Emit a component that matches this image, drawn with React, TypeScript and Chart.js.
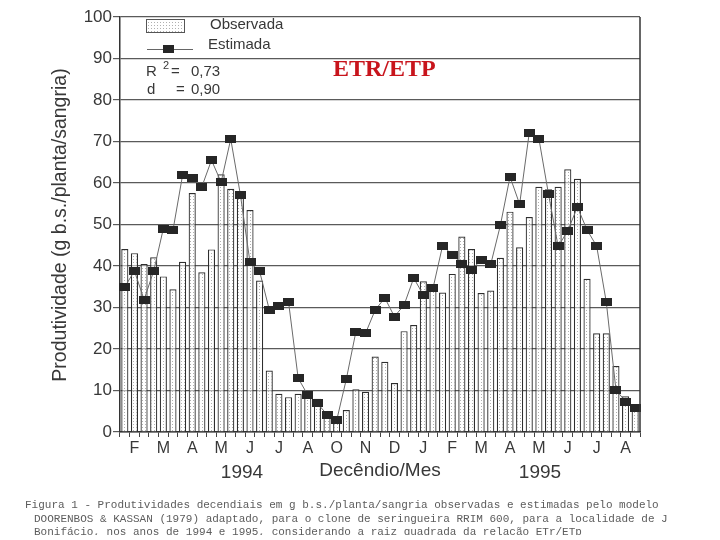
import React, { useEffect, useRef } from 'react';
import { Chart, registerables } from 'chart.js';

Chart.register(...registerables);

const monthLabels = ['F', 'M', 'A', 'M', 'J', 'J', 'A', 'O', 'N', 'D', 'J', 'F', 'M', 'A', 'M', 'J', 'J', 'A'];
const decendioNumbers = [1, 2, 3];
const categories = monthLabels.flatMap((m, i) => decendioNumbers.map((d) => `${m}${i}-${d}`));

const observada = [
  44.1, 43.1, 40.5, 42.1, 37.5, 34.4, 41.0, 57.6, 38.5, 44.0,
  62.1, 58.6, 57.0, 53.5, 36.5, 14.8, 9.2, 8.4, 9.2, 8.8,
  8.0, 4.2, 3.4, 5.3, 10.3, 9.7, 18.2, 16.9, 11.8, 24.3,
  25.8, 36.3, 35.5, 33.6, 38.1, 47.1, 44.1, 33.5, 34.1, 42.0,
  53.1, 44.5, 51.8, 59.1, 58.5, 59.1, 63.3, 61.0, 36.9, 23.8,
  23.8, 15.9, 8.6, 6.0,
];

const estimada = [
  35.0, 38.8, 31.9, 38.8, 49.0, 48.6, 61.9, 61.3, 59.1, 65.5,
  60.2, 70.6, 57.2, 40.9, 38.7, 29.5, 30.3, 31.4, 13.0, 8.9,
  6.9, 4.2, 2.8, 12.7, 24.2, 23.8, 29.4, 32.3, 27.8, 30.6,
  37.1, 33.0, 34.6, 44.9, 42.7, 40.6, 39.0, 41.5, 40.4, 49.8,
  61.5, 54.9, 72.1, 70.7, 57.3, 44.7, 48.5, 54.2, 48.7, 44.8,
  31.3, 10.2, 7.3, 5.8,
];

const yearLabels = ['1994', '1995'];
const xTitle = 'Decêndio/Mes';
const yTitle = 'Produtividade (g b.s./planta/sangria)';
const legendLabels = ['Observada', 'Estimada'];
const statsText = { r2: '0,73', d: '0,90' };
const overlayTitle = 'ETR/ETP';
const captionLines = [
  'Figura 1 - Produtividades decendiais em g b.s./planta/sangria observadas e estimadas pelo modelo',
  'DOORENBOS & KASSAN (1979) adaptado, para o clone de seringueira RRIM 600, para a localidade de J',
  'Bonifácio, nos anos de 1994 e 1995, considerando a raiz quadrada da relação ETr/ETp',
];

const SANS = "'Liberation Sans', Arial, Helvetica, sans-serif";
const INK = '#383838';

export default function App() {
  const ref = useRef<HTMLCanvasElement | null>(null);

  useEffect(() => {
    const canvas = ref.current;
    if (!canvas) return;
    const ctx0 = canvas.getContext('2d')!;

    // stipple pattern for bars
    const pc = document.createElement('canvas');
    pc.width = 3;
    pc.height = 3;
    const pctx = pc.getContext('2d')!;
    pctx.fillStyle = 'rgba(255,255,255,0.55)';
    pctx.fillRect(0, 0, 3, 3);
    pctx.fillStyle = '#b0b0b0';
    pctx.fillRect(1, 1, 1, 1);
    const pattern = ctx0.createPattern(pc, 'repeat')!;

    // marker image
    const mk = document.createElement('canvas');
    mk.width = 11;
    mk.height = 8;
    const mctx = mk.getContext('2d')!;
    mctx.fillStyle = '#262626';
    mctx.fillRect(0, 0, 11, 8);

    const decor = {
      id: 'decor',
      afterDraw(chart: any) {
        const ctx = chart.ctx as CanvasRenderingContext2D;
        const a = chart.chartArea;
        ctx.save();
        // right border
        ctx.strokeStyle = '#333';
        ctx.lineWidth = 1.5;
        ctx.beginPath();
        ctx.moveTo(a.right, a.top);
        ctx.lineTo(a.right, a.bottom);
        ctx.stroke();

        // legend
        ctx.fillStyle = '#ffffff';
        ctx.fillRect(146, 19, 38, 13);
        ctx.fillStyle = pattern;
        ctx.fillRect(146, 19, 38, 13);
        ctx.strokeStyle = '#555';
        ctx.lineWidth = 1;
        ctx.strokeRect(146.5, 19.5, 38, 13);

        ctx.fillStyle = INK;
        ctx.font = `15px ${SANS}`;
        ctx.textBaseline = 'middle';
        ctx.textAlign = 'left';
        ctx.fillText(legendLabels[0], 210, 25);
        ctx.fillText(legendLabels[1], 208, 45);

        ctx.strokeStyle = '#666';
        ctx.beginPath();
        ctx.moveTo(147, 49.5);
        ctx.lineTo(193, 49.5);
        ctx.stroke();
        ctx.drawImage(mk, 163, 45);

        // stats
        ctx.fillStyle = INK;
        ctx.font = `15px ${SANS}`;
        ctx.fillText('R', 146, 72);
        ctx.font = `11px ${SANS}`;
        ctx.fillText('2', 163, 66);
        ctx.font = `15px ${SANS}`;
        ctx.fillText('=', 171, 72);
        ctx.fillText(statsText.r2, 191, 72);
        ctx.fillText('d', 147, 90);
        ctx.fillText('=', 176, 90);
        ctx.fillText(statsText.d, 191, 90);

        // red overlay title
        ctx.fillStyle = '#c8141c';
        ctx.font = `bold 24px 'Liberation Serif', 'Times New Roman', serif`;
        ctx.fillText(overlayTitle, 333, 70);

        // x title & years
        ctx.fillStyle = INK;
        ctx.font = `19px ${SANS}`;
        ctx.textAlign = 'center';
        ctx.fillText(yearLabels[0], 242, 473);
        ctx.fillText(xTitle, 380, 471);
        ctx.fillText(yearLabels[1], 540, 473);

        // y title
        ctx.translate(61, 225);
        ctx.rotate(-Math.PI / 2);
        ctx.font = `19.5px ${SANS}`;
        ctx.textAlign = 'center';
        ctx.fillText(yTitle, 0, 0);
        ctx.restore();
      },
    };

    const chart = new Chart(canvas, {
      type: 'bar',
      data: {
        labels: categories,
        datasets: [
          {
            type: 'line',
            label: legendLabels[1],
            data: estimada,
            borderColor: '#6a6a6a',
            borderWidth: 1,
            pointStyle: mk as any,
            pointRadius: 5,
            tension: 0,
            order: 1,
          } as any,
          {
            type: 'bar',
            label: legendLabels[0],
            data: observada,
            backgroundColor: pattern as any,
            borderColor: '#2e2e2e',
            borderWidth: { left: 1.2, right: 1.2, top: 1.2, bottom: 0 } as any,
            borderSkipped: false,
            barPercentage: 0.74,
            categoryPercentage: 1,
            order: 2,
          } as any,
        ],
      },
      options: {
        responsive: false,
        animation: false,
        events: [],
        layout: { padding: { top: 17, right: 80, left: 0, bottom: 0 } },
        plugins: {
          legend: { display: false },
          tooltip: { enabled: false },
          title: { display: false },
        },
        scales: {
          x: {
            type: 'category',
            offset: true,
            afterFit(scale: any) {
              scale.height = 108;
            },
            grid: {
              display: true,
              offset: true,
              drawOnChartArea: false,
              drawTicks: true,
              tickLength: 5,
              color: '#444',
              lineWidth: 1,
            },
            border: { display: true, color: '#333', width: 1.5 },
            ticks: {
              autoSkip: false,
              maxRotation: 0,
              minRotation: 0,
              padding: 2,
              color: INK,
              font: { family: SANS, size: 16 },
              callback: (_v: any, i: number) => (i % 3 === 1 ? monthLabels[Math.floor(i / 3)] : ''),
            },
          },
          y: {
            min: 0,
            max: 100,
            afterFit(scale: any) {
              scale.width = 120;
            },
            grid: {
              color: '#5a5a5a',
              lineWidth: 1.2,
              drawTicks: true,
              tickLength: 7,
            },
            border: { display: true, color: '#333', width: 1.5 },
            ticks: {
              stepSize: 10,
              padding: 1,
              color: INK,
              font: { family: SANS, size: 17 },
            },
          },
        },
      },
      plugins: [decor],
    });

    return () => chart.destroy();
  }, []);

  return (
    <div
      style={{
        position: 'fixed',
        left: 0,
        top: 0,
        width: 720,
        height: 540,
        overflow: 'hidden',
        background: '#ffffff',
      }}
    >
      <canvas ref={ref} width={720} height={540} style={{ position: 'absolute', left: 0, top: 0, width: 720, height: 540 }} />
      <div
        style={{
          position: 'absolute',
          left: 0,
          top: 498,
          width: 720,
          height: 36.5,
          overflow: 'hidden',
        }}
      >
        {captionLines.map((line, i) => (
          <div
            key={i}
            style={{
              position: 'absolute',
              left: i === 0 ? 25 : 34,
              top: 2 + i * 13.5,
              font: "11px 'Liberation Mono', 'Courier New', monospace",
              color: '#5c5c5c',
              whiteSpace: 'pre',
              lineHeight: '10px',
            }}
          >
            {line}
          </div>
        ))}
      </div>
    </div>
  );
}
